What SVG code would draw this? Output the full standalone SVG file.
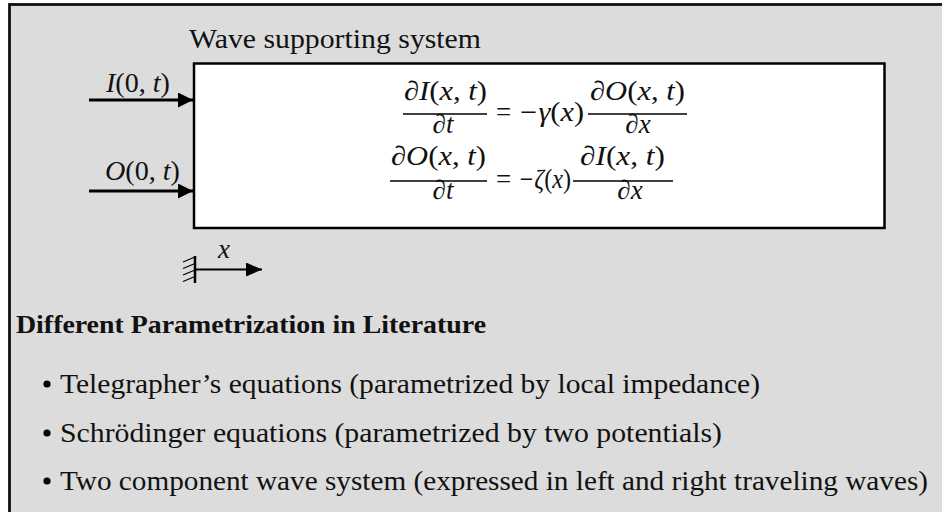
<svg xmlns="http://www.w3.org/2000/svg" width="942" height="512" viewBox="0 0 942 512">
<defs>
<marker id="ah" markerWidth="15" markerHeight="15" refX="15" refY="7.5" orient="auto" markerUnits="userSpaceOnUse">
<path d="M0,0 L15,7.5 L0,15 Z" fill="#000"/>
</marker>
<marker id="ah2" markerWidth="16" markerHeight="14" refX="16" refY="7" orient="auto" markerUnits="userSpaceOnUse">
<path d="M0,0 L16,7 L0,14 Z" fill="#000"/>
</marker>
<style>
.t{font-family:"Liberation Serif","Times New Roman",serif;fill:#111}
.m{font-family:"Liberation Serif","Times New Roman",serif;font-style:italic;fill:#111}
.r{font-style:normal}
.ln{stroke:#000;stroke-width:3;fill:none}
.bar{stroke:#000;stroke-width:1.6}
</style>
</defs>
<rect x="0" y="0" width="942" height="512" fill="#fff"/>
<rect x="9.5" y="4.5" width="940" height="520" fill="#dcdcdc" stroke="#111" stroke-width="2.8"/>
<text class="t" x="189" y="48" font-size="27" textLength="292" lengthAdjust="spacingAndGlyphs">Wave supporting system</text>
<g id="system">
<rect x="194" y="63.5" width="690.5" height="164.5" fill="#fff" stroke="#000" stroke-width="2.5"/>
<g font-size="27">
<text class="m" x="404" y="100" textLength="83" lengthAdjust="spacingAndGlyphs">∂I<tspan class="r">(</tspan>x<tspan class="r">, </tspan>t<tspan class="r">)</tspan></text>
<line class="bar" x1="403" y1="114" x2="487" y2="114"/>
<text class="m" x="443" y="133" text-anchor="middle">∂t</text>
<text class="t" x="503.5" y="121" text-anchor="middle">=</text>
<text class="m" x="518" y="121" textLength="66" lengthAdjust="spacingAndGlyphs">−γ<tspan class="r">(</tspan>x<tspan class="r">)</tspan></text>
<text class="m" x="590" y="100" textLength="95" lengthAdjust="spacingAndGlyphs">∂O<tspan class="r">(</tspan>x<tspan class="r">, </tspan>t<tspan class="r">)</tspan></text>
<line class="bar" x1="588" y1="114" x2="687" y2="114"/>
<text class="m" x="638" y="133" text-anchor="middle">∂x</text>
<text class="m" x="391" y="165" textLength="95" lengthAdjust="spacingAndGlyphs">∂O<tspan class="r">(</tspan>x<tspan class="r">, </tspan>t<tspan class="r">)</tspan></text>
<line class="bar" x1="390" y1="181" x2="487" y2="181"/>
<text class="m" x="443" y="199" text-anchor="middle">∂t</text>
<text class="t" x="503.5" y="188" text-anchor="middle">=</text>
<text class="m" x="518" y="188" textLength="53" lengthAdjust="spacingAndGlyphs">−ζ<tspan class="r">(</tspan>x<tspan class="r">)</tspan></text>
<text class="m" x="580" y="165" textLength="85" lengthAdjust="spacingAndGlyphs">∂I<tspan class="r">(</tspan>x<tspan class="r">, </tspan>t<tspan class="r">)</tspan></text>
<line class="bar" x1="573" y1="181" x2="673" y2="181"/>
<text class="m" x="630" y="199" text-anchor="middle">∂x</text>
</g>
</g>
<g id="inputs">
<text class="m" x="106" y="92" font-size="27" textLength="64" lengthAdjust="spacingAndGlyphs">I<tspan class="r">(0, </tspan>t<tspan class="r">)</tspan></text>
<text class="m" x="105" y="180" font-size="27" textLength="75" lengthAdjust="spacingAndGlyphs">O<tspan class="r">(0, </tspan>t<tspan class="r">)</tspan></text>
</g>
<g id="connectors">
<line class="ln" x1="89" y1="100" x2="193" y2="100" marker-end="url(#ah)"/>
<line class="ln" x1="89" y1="191" x2="193" y2="191" marker-end="url(#ah)"/>
</g>
<g id="axis">
<line x1="195" y1="256" x2="195" y2="283" stroke="#000" stroke-width="2.5"/>
<g stroke="#000" stroke-width="1.2">
<line x1="183" y1="262" x2="195" y2="257"/>
<line x1="183" y1="268.5" x2="195" y2="263.5"/>
<line x1="183" y1="275" x2="195" y2="270"/>
<line x1="183" y1="281.5" x2="195" y2="276.5"/>
</g>
<line x1="195" y1="269.5" x2="262" y2="269.5" stroke="#000" stroke-width="1.8" marker-end="url(#ah2)"/>
<text class="m" x="218" y="258" font-size="27">x</text>
</g>
<g id="literature">
<text class="t" x="16" y="333" font-size="26" font-weight="bold" textLength="470" lengthAdjust="spacingAndGlyphs">Different Parametrization in Literature</text>
<circle cx="47" cy="384" r="3.6"/>
<text class="t" x="60" y="393" font-size="26.5" textLength="700" lengthAdjust="spacingAndGlyphs">Telegrapher’s equations (parametrized by local impedance)</text>
<circle cx="47" cy="433" r="3.6"/>
<text class="t" x="60" y="442" font-size="26.5" textLength="662" lengthAdjust="spacingAndGlyphs">Schrödinger equations (parametrized by two potentials)</text>
<circle cx="47" cy="481" r="3.6"/>
<text class="t" x="60" y="490" font-size="26.5" textLength="868" lengthAdjust="spacingAndGlyphs">Two component wave system (expressed in left and right traveling waves)</text>
</g>
</svg>
